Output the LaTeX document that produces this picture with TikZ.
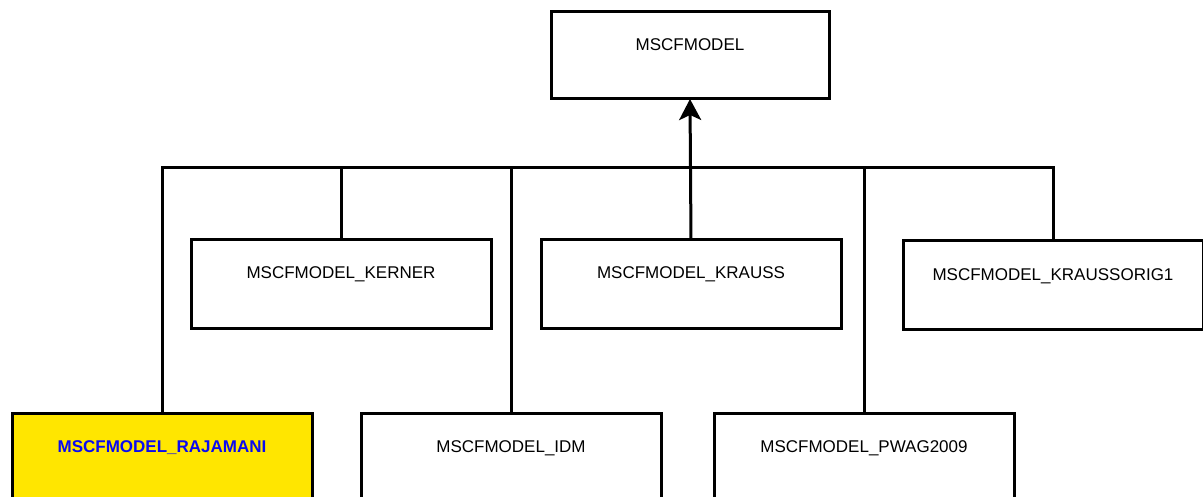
\documentclass[tikz,border=0pt]{standalone}
\usepackage{fontspec}
\setmainfont{Liberation Sans}
\usepackage{tikz}
\usetikzlibrary{arrows.meta,positioning}
\definecolor{cLine}{HTML}{000000}
\definecolor{cHigh}{HTML}{FFE600}
\definecolor{cHighTxt}{HTML}{0A0AF0}
\tikzset{
  cls/.style    ={draw=cLine,fill=white,line width=3pt,minimum width=300pt,
                  inner sep=0pt,text height=39pt,text depth=49pt,align=center,
                  font=\fontsize{17}{20}\selectfont},
  clsroot/.style={cls,minimum width=278pt,text depth=48pt},
  clshigh/.style={cls,fill=cHigh,text=cHighTxt,font=\fontsize{17}{20}\selectfont\bfseries},
  link/.style   ={draw=cLine,line width=3pt},
  inh/.style    ={link,-{Stealth[length=21pt,width=22pt,inset=5pt]}},
}
\begin{document}
\begin{tikzpicture}[x=1pt,y=1pt,every node/.style={outer sep=0pt}]
\useasboundingbox (0,0) rectangle (1203,-497);

\node[clsroot,anchor=north] (root) at (690,-12) {MSCFMODEL};

\node[cls,anchor=north] (kerner) at (341,-240) {MSCFMODEL\_KERNER};
\node[cls,anchor=north] (krauss) at (691,-240) {MSCFMODEL\_KRAUSS};
\node[cls,anchor=north] (orig1)  at (1053,-241) {MSCFMODEL\_KRAUSSORIG1};

\node[clshigh,anchor=north] (rajamani) at (162,-413) {MSCFMODEL\_RAJAMANI};
\node[cls,anchor=north] (idm)  at (511,-413) {MSCFMODEL\_IDM};
\node[cls,anchor=north] (pwag) at (864,-413) {MSCFMODEL\_PWAG2009};

\coordinate (bus) at (0,-168);
\draw[link] (rajamani.north) -- (rajamani.north |- bus) -- (orig1.north |- bus) -- (orig1.north);
\draw[link] (kerner.north) -- (kerner.north |- bus);
\draw[link] (idm.north) -- (idm.north |- bus);
\draw[link] (pwag.north) -- (pwag.north |- bus);
\draw[inh] (krauss.north) -- (root.south);
\end{tikzpicture}
\end{document}
